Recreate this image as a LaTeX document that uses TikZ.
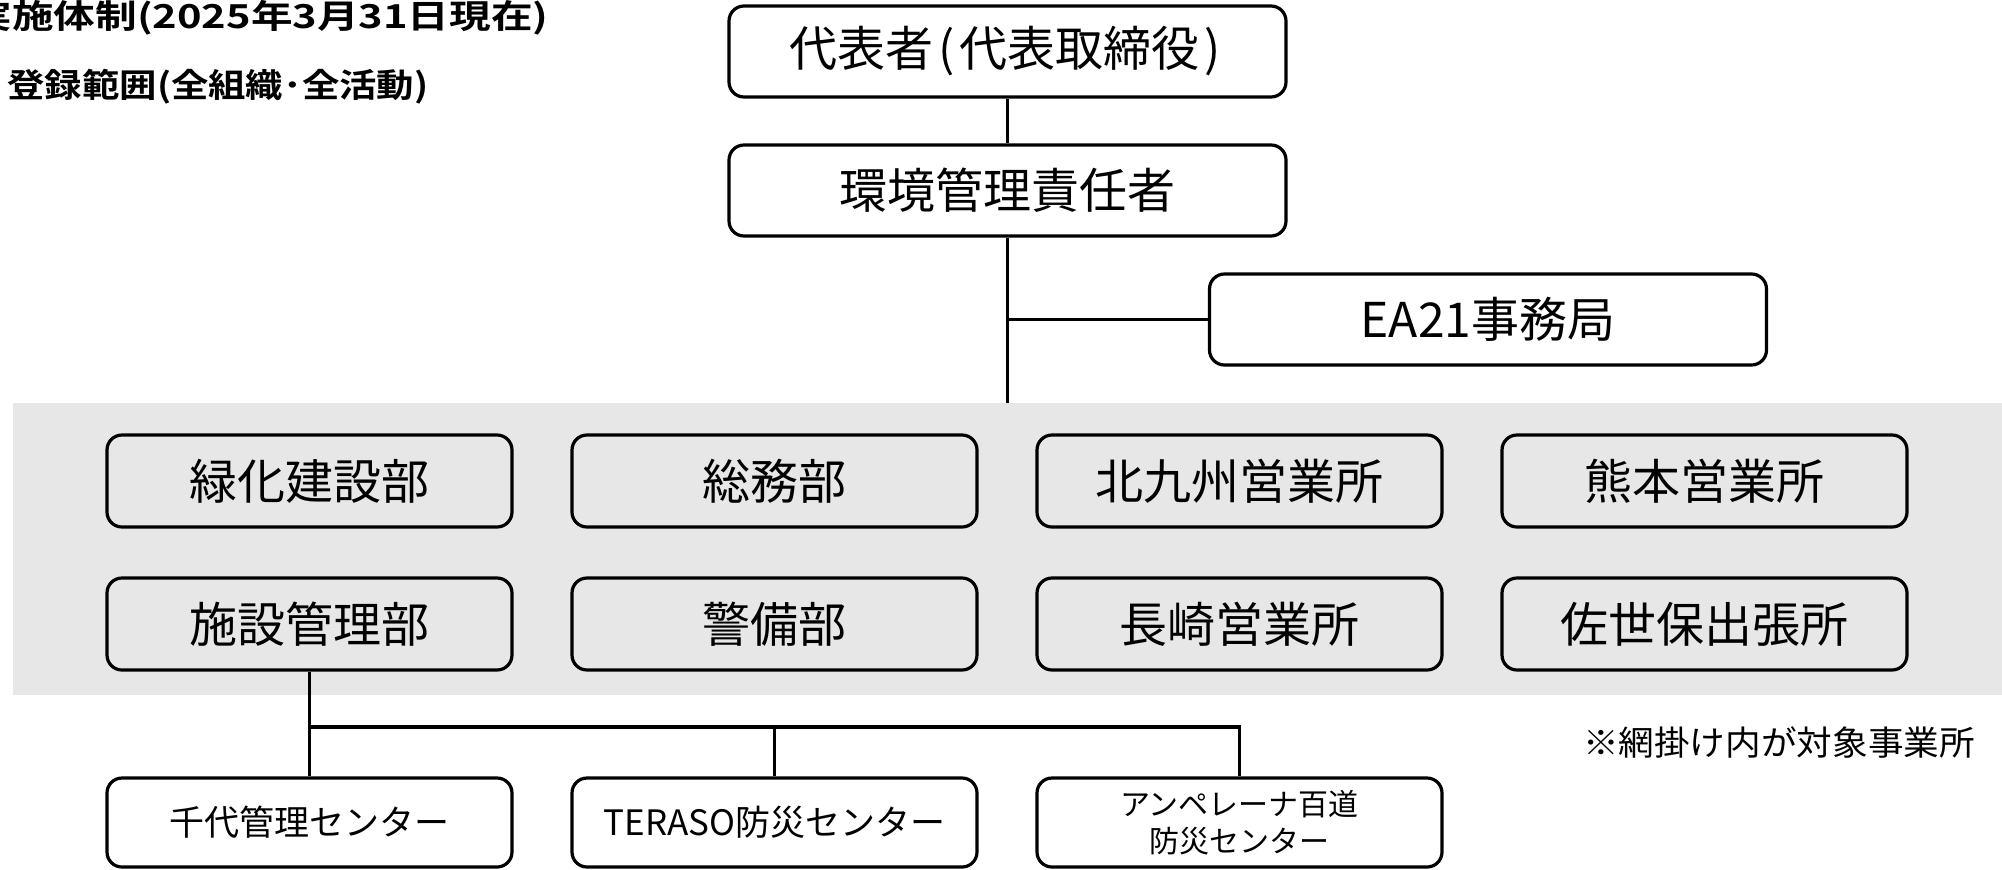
\documentclass[tikz,border=0pt]{standalone}
\usepackage{fontspec}
\usepackage{graphicx}
\newfontfamily\jp{Noto Sans CJK JP}
\newfontfamily\jpbold{Noto Sans CJK JP Bold}
\definecolor{areagray}{RGB}{231,231,231}
\begin{document}
\begin{tikzpicture}[x=0.5pt,y=-0.5pt,
  orgbox/.style={draw, line width=1.6pt, rounded corners=7.5pt, inner sep=0pt, align=center, font=\jp\fontsize{24pt}{28pt}\selectfont},
  topbox/.style={orgbox, fill=white, minimum width=278.5pt, minimum height=45.5pt},
  unitbox/.style={orgbox, minimum width=202.5pt, minimum height=46pt},
  subbox/.style={orgbox, fill=white, minimum width=202.5pt, minimum height=44.5pt, font=\jp\fontsize{17.5pt}{21pt}\selectfont},
  twobox/.style={subbox, font=\jp\fontsize{15pt}{18.5pt}\selectfont},
  conn/.style={line width=1.6pt},
  plain/.style={inner sep=0pt}]
\useasboundingbox (0,0) rectangle (2002,869);
\clip (0,0) rectangle (2002,869);
% shaded area
\fill[areagray] (13,403) rectangle (2010,695);
% titles
\node[plain, anchor=east] (title) at (549,17.5) {\resizebox{289pt}{\height}{\jpbold\fontsize{16.5pt}{20pt}\selectfont 実施体制(2025年3月31日現在)}};
\node[plain, anchor=west] (range) at (7,87) {\resizebox{210.5pt}{\height}{\jpbold\fontsize{16.5pt}{20pt}\selectfont 登録範囲(全組織･全活動)}};
% top nodes
\node[topbox] (rep) at (1007.5,51.5) {代表者\hspace{0.1em}(\hspace{0.1em}代表取締役\hspace{0.1em})\hspace{0.1em}};
\node[topbox] (mgr) at (1007.5,190.5) {環境管理責任者};
\node[topbox] (ea) at (1488,319.5) {EA21事務局};
\coordinate (trunkend) at (1007.5,403);
\draw[conn] (rep) -- (mgr);
\draw[conn] (mgr) -- (trunkend);
\draw[conn] (mgr.south |- ea.west) -- (ea.west);
% units
\node[unitbox] (green) at (309.5,481) {緑化建設部};
\node[unitbox] (gen) at (774.5,481) {総務部};
\node[unitbox] (kita) at (1239.5,481) {北九州営業所};
\node[unitbox] (kuma) at (1704.5,481) {熊本営業所};
\node[unitbox] (fac) at (309.5,624) {施設管理部};
\node[unitbox] (sec) at (774.5,624) {警備部};
\node[unitbox] (naga) at (1239.5,624) {長崎営業所};
\node[unitbox] (sase) at (1704.5,624) {佐世保出張所};
% sub centres
\node[subbox] (c1) at (309.5,822.5) {千代管理センター};
\node[subbox] (c2) at (774.5,822.5) {TERASO防災センター};
\node[twobox] (c3) at (1239.5,822.5) {アンペレーナ百道\\防災センター};
\coordinate (bus) at (309.5,727);
\draw[conn] (fac) -- (c1);
\draw[conn] (c1.north |- bus) -| (c3.north);
\draw[conn] (c2.north |- bus) -- (c2.north);
% note
\node[plain] (note) at (1779,743) {\resizebox{196pt}{\height}{\jp\fontsize{17pt}{20pt}\selectfont ※網掛け内が対象事業所}};
\end{tikzpicture}
\end{document}
